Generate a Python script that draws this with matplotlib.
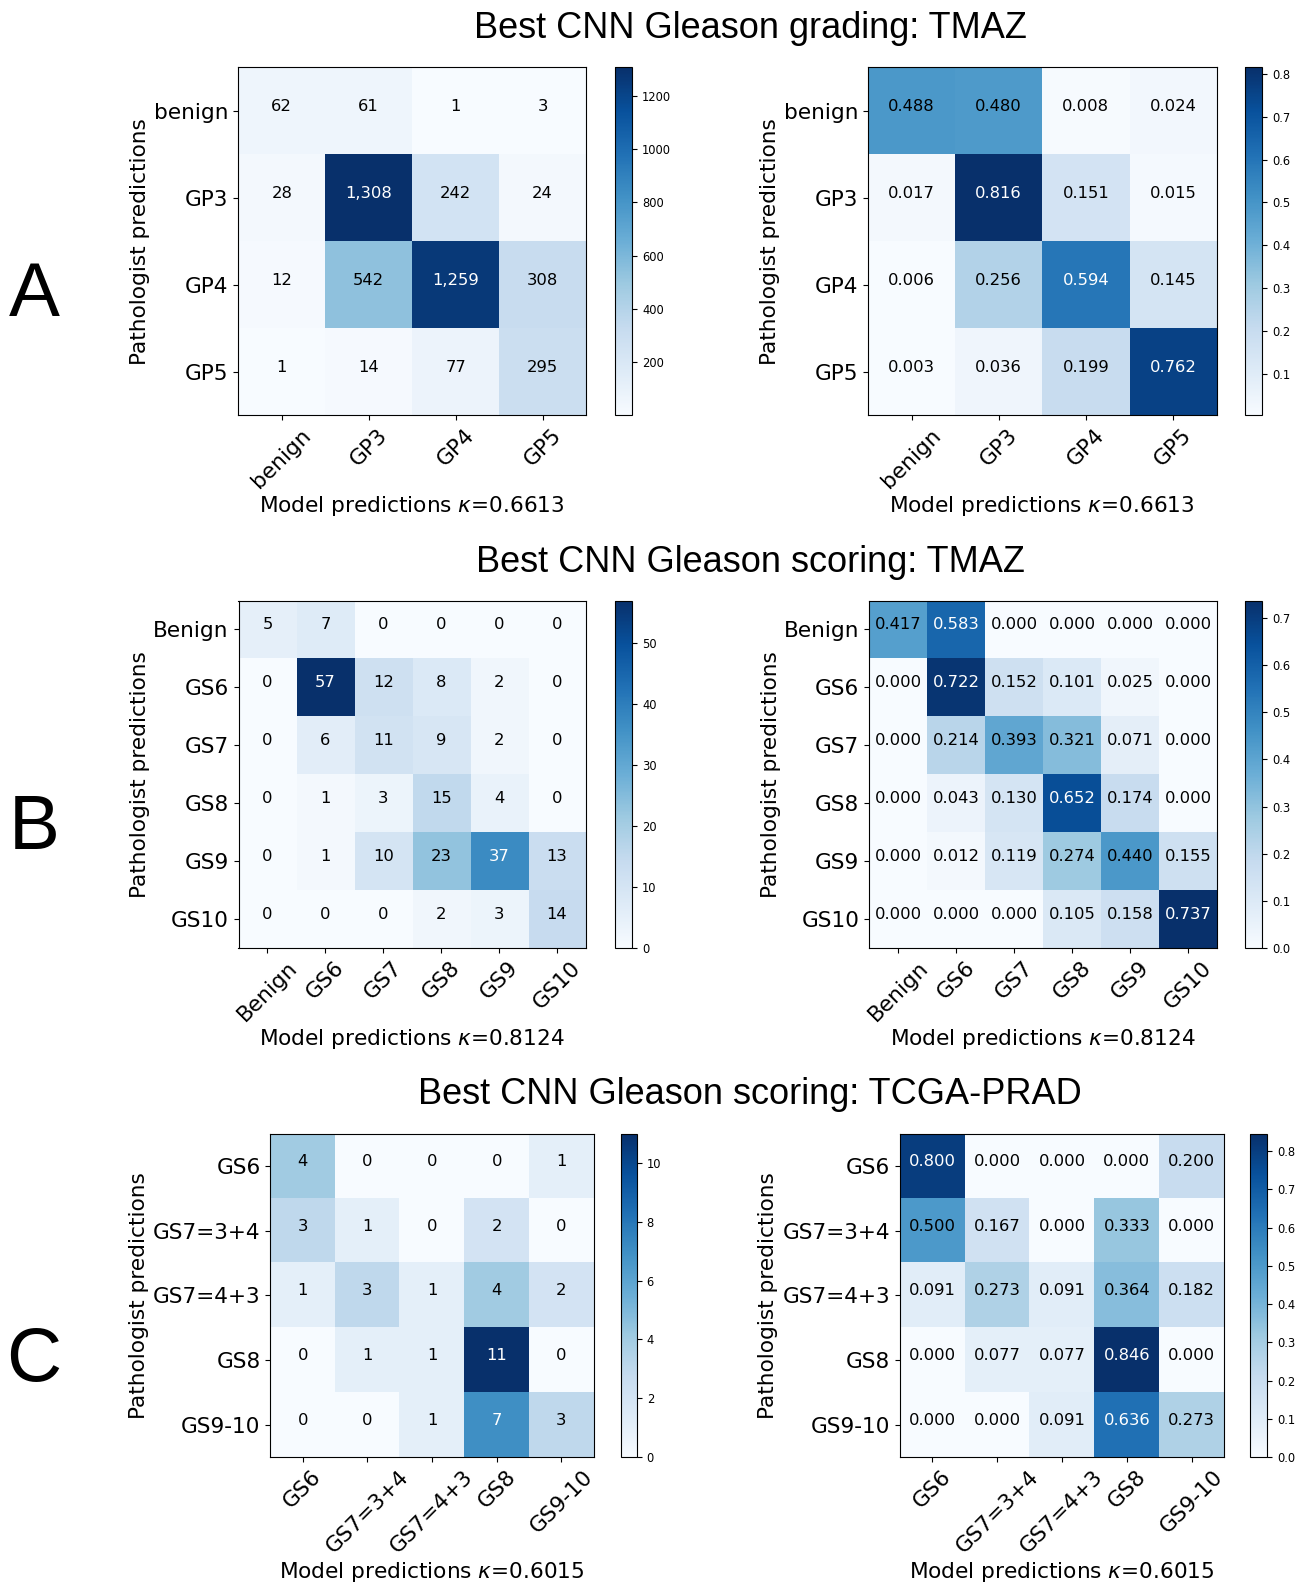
import numpy as np
import matplotlib
matplotlib.use("Agg")
import matplotlib.pyplot as plt

W, H = 1299, 1585

# ---------------- data ----------------
A_labels = ['benign', 'GP3', 'GP4', 'GP5']
A_counts = [[62, 61, 1, 3],
            [28, 1308, 242, 24],
            [12, 542, 1259, 308],
            [1, 14, 77, 295]]
A_norm = [[0.488, 0.480, 0.008, 0.024],
          [0.017, 0.816, 0.151, 0.015],
          [0.006, 0.256, 0.594, 0.145],
          [0.003, 0.036, 0.199, 0.762]]
A_kappa = "0.6613"

B_labels = ['Benign', 'GS6', 'GS7', 'GS8', 'GS9', 'GS10']
B_counts = [[5, 7, 0, 0, 0, 0],
            [0, 57, 12, 8, 2, 0],
            [0, 6, 11, 9, 2, 0],
            [0, 1, 3, 15, 4, 0],
            [0, 1, 10, 23, 37, 13],
            [0, 0, 0, 2, 3, 14]]
B_norm = [[0.417, 0.583, 0.000, 0.000, 0.000, 0.000],
          [0.000, 0.722, 0.152, 0.101, 0.025, 0.000],
          [0.000, 0.214, 0.393, 0.321, 0.071, 0.000],
          [0.000, 0.043, 0.130, 0.652, 0.174, 0.000],
          [0.000, 0.012, 0.119, 0.274, 0.440, 0.155],
          [0.000, 0.000, 0.000, 0.105, 0.158, 0.737]]
B_kappa = "0.8124"

C_labels = ['GS6', 'GS7=3+4', 'GS7=4+3', 'GS8', 'GS9-10']
C_counts = [[4, 0, 0, 0, 1],
            [3, 1, 0, 2, 0],
            [1, 3, 1, 4, 2],
            [0, 1, 1, 11, 0],
            [0, 0, 1, 7, 3]]
C_norm = [[0.800, 0.000, 0.000, 0.000, 0.200],
          [0.500, 0.167, 0.000, 0.333, 0.000],
          [0.091, 0.273, 0.091, 0.364, 0.182],
          [0.000, 0.077, 0.077, 0.846, 0.000],
          [0.000, 0.000, 0.091, 0.636, 0.273]]
C_kappa = "0.6015"

titles = ["Best CNN Gleason grading: TMAZ",
          "Best CNN Gleason scoring: TMAZ",
          "Best CNN Gleason scoring: TCGA-PRAD"]
panel_letters = ["A", "B", "C"]

# ---------------- layout ----------------
def rect(x0, x1, y0, y1):
    return [x0 / W, 1 - y1 / H, (x1 - x0) / W, (y1 - y0) / H]

fig = plt.figure(figsize=(W / 100, H / 100), dpi=100)

def draw(ax_box, cb_box, data, labels, kappa, fmt, xl, yl):
    arr = np.array(data, dtype=float)
    ax = fig.add_axes(rect(*ax_box))
    cax = fig.add_axes(rect(*cb_box))
    vmin, vmax = arr.min(), arr.max()
    im = ax.imshow(arr, cmap='Blues', interpolation='nearest', aspect='auto',
                   vmin=vmin, vmax=vmax)
    n = len(labels)
    for i in range(n):
        for j in range(n):
            v = arr[i, j]
            rel = (v - vmin) / (vmax - vmin)
            ax.text(j, i, fmt(data[i][j]), ha='center', va='baseline',
                    fontsize=11.8, color='white' if rel > 0.62 else 'black')
    ax.set_xticks(range(n))
    ax.set_yticks(range(n))
    ax.set_xticklabels(labels, rotation=45, fontsize=15.6)
    ax.set_yticklabels(labels, fontsize=15.6)
    ax.set_xlabel(r"Model predictions $\kappa$=" + kappa, fontsize=15.6)
    ax.set_ylabel("Pathologist predictions", fontsize=15.6)
    ax.xaxis.set_label_coords(0.5, xl)
    ax.xaxis.label.set_va('center')
    ax.yaxis.set_label_coords(yl, 0.5)
    ax.yaxis.label.set_va('center')
    cb = fig.colorbar(im, cax=cax)
    cb.ax.tick_params(labelsize=8.3)
    return ax

fmt_int = lambda v: "{:,}".format(v)
fmt_f = lambda v: "{:.3f}".format(v)

draw((238.3, 586, 67.3, 415), (615, 632.3, 67.3, 415), A_counts, A_labels, A_kappa, fmt_int, -0.263, -0.284)
draw((868, 1216.5, 67.3, 415), (1245, 1262.3, 67.3, 415), A_norm, A_labels, A_kappa, fmt_f, -0.263, -0.282)
draw((238.5, 586, 600.5, 948), (615, 632.3, 600.5, 948), B_counts, B_labels, B_kappa, fmt_int, -0.262, -0.284)
draw((869, 1217, 600.5, 948), (1245, 1262.3, 600.5, 948), B_norm, B_labels, B_kappa, fmt_f, -0.262, -0.282)
draw((270.3, 593.7, 1133.5, 1457), (620.5, 637, 1133.5, 1457), C_counts, C_labels, C_kappa, fmt_int, -0.355, -0.4075)
draw((900, 1224, 1133.5, 1457), (1250, 1267.3, 1133.5, 1457), C_norm, C_labels, C_kappa, fmt_f, -0.355, -0.407)

for t, y in zip(titles, [28, 562, 1095]):
    fig.text(750 / W, 1 - y / H, t, ha='center', va='center', fontsize=26,
             family='Liberation Sans')
for L, y in zip(panel_letters, [297, 830, 1362]):
    fig.text(34 / W, 1 - y / H, L, ha='center', va='center', fontsize=55,
             family='Liberation Sans')

fig.savefig("out.png", dpi=100)
